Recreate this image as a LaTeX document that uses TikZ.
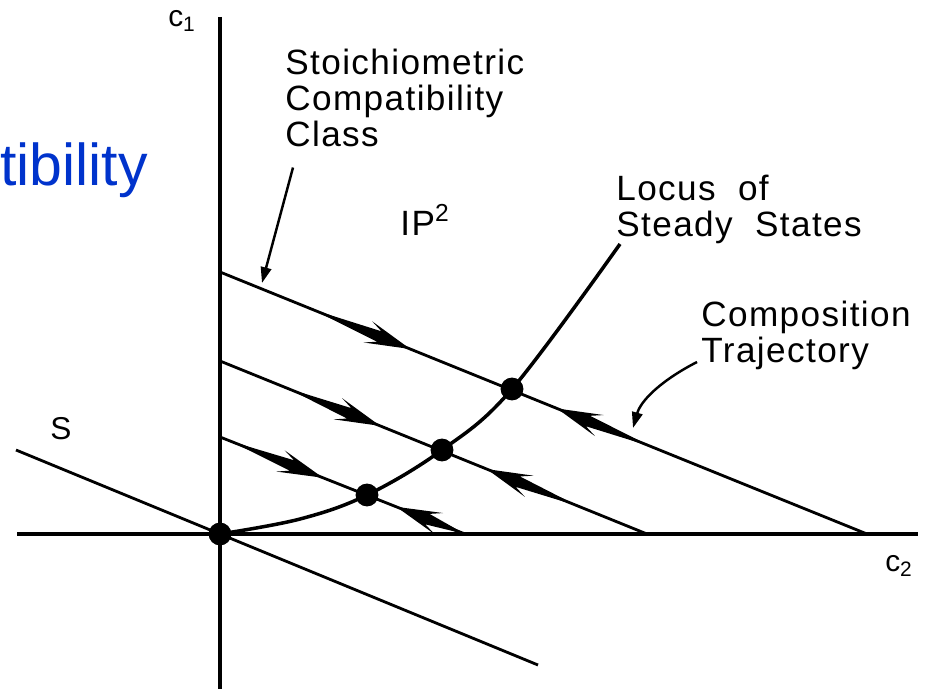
\documentclass[tikz,border=0pt]{standalone}
\usepackage{fontspec}
\setmainfont{Liberation Sans}
\newfontfamily\lblfont[LetterSpace=4]{Liberation Sans}
\usetikzlibrary{arrows.meta,calc}
\definecolor{slideblue}{RGB}{0,51,204}
% tapered arrow drawn on a class line: #1 tail, #2 tip
\newcommand{\trajarrow}[2]{%
  \fill (#1) -- ($(#2)!19pt!(#1)!3.2pt!90:(#2)$)
    -- ($(#2)!26pt!(#1)!6.5pt!90:(#2)$) -- (#2)
    -- ($(#2)!26pt!(#1)!6.5pt!-90:(#2)$)
    -- ($(#2)!19pt!(#1)!3.2pt!-90:(#2)$) -- cycle;}
\tikzset{
  >={Triangle[length=9pt,width=6pt]},
  axis/.style={line width=2.2pt},
  scline/.style={line width=1.6pt},
  locus/.style={line width=2pt},
  ssdot/.style={circle,fill=black,inner sep=0pt,minimum size=13pt},
  ptr/.style={->,line width=1.4pt},
  lbl/.style={font=\lblfont\fontsize{20}{20.5}\selectfont,align=left,inner sep=0pt},
  axlbl/.style={font=\lblfont\fontsize{17}{18}\selectfont,inner sep=0pt},
}
\begin{document}
\begin{tikzpicture}[x=0.02cm,y=-0.02cm]
  \useasboundingbox (0,0) rectangle (928,689);
  % axes
  \coordinate (c1top) at (220,17);
  \coordinate (c1bot) at (220,689);
  \coordinate (c2left) at (17,534);
  \coordinate (c2right) at (918,534);
  \draw[axis] (c1top) -- (c1bot);
  \draw[axis] (c2left) -- (c2right);
  \node[axlbl] (c1) at (182,21) {c\textsubscript{1}};
  \node[axlbl] (c2) at (899,566) {c\textsubscript{2}};
  % subspace S
  \coordinate (s0) at (16,450);
  \coordinate (s1) at (538,665);
  \draw[scline] (s0) -- (s1);
  \node[lbl,font=\lblfont\fontsize{18}{20}\selectfont] (slab) at (61,429) {S};
  % stoichiometric compatibility classes
  \coordinate (a1) at (220,272); \coordinate (b1) at (867,534);
  \coordinate (a2) at (220,361); \coordinate (b2) at (647,534);
  \coordinate (a3) at (220,437); \coordinate (b3) at (465,534);
  \foreach \l in {1,2,3}
    \draw[scline] (a\l) -- (b\l);
  % locus of steady states
  \node[ssdot] (o) at (220,534) {};
  \node[ssdot] (p1) at (512,389) {};
  \node[ssdot] (p2) at (442,450) {};
  \node[ssdot] (p3) at (367,495) {};
  \coordinate (lmid) at (300,519);
  \coordinate (lend) at (620,244);
  \draw[locus] plot[smooth,tension=0.6] coordinates
    {(o.center) (lmid) (p3.center) (p2.center) (p1.center) (lend)};
  % composition trajectories
  \foreach \l/\f/\t in {1/0.144/0.294, 1/0.665/0.521, 2/0.159/0.375,
                        2/0.836/0.625, 3/0.049/0.42, 3/1.0/0.72} {
    \coordinate (tl) at ($(a\l)!\f!(b\l)$);
    \coordinate (tp) at ($(a\l)!\t!(b\l)$);
    \trajarrow{tl}{tp}
  }
  % labels
  \node[lbl,anchor=north west] (sc) at (285,49)
    {Stoichiometric\\Compatibility\\Class};
  \node[lbl,anchor=north west] (ls) at (616,175) {Locus\ \ of\\Steady\ \ States};
  \node[lbl,anchor=north west] (ct) at (701,301) {Composition\\Trajectory};
  \node[lbl] (pp) at (425,220) {IP\textsuperscript{2}};
  \node[anchor=base east,inner sep=0pt,text=slideblue,
    font=\fontsize{33.6}{40}\selectfont] (blue) at (148,185) {tibility};
  \coordinate (sctip) at (262,283);
  \coordinate (cttip) at (633,428);
  \draw[ptr] ([shift={(8,20)}]sc.south west) -- (sctip);
  \draw[ptr] ([shift={(-4,61)}]ct.north west)
    .. controls +(-35,18) and +(8,-28) .. (cttip);
\end{tikzpicture}
\end{document}
